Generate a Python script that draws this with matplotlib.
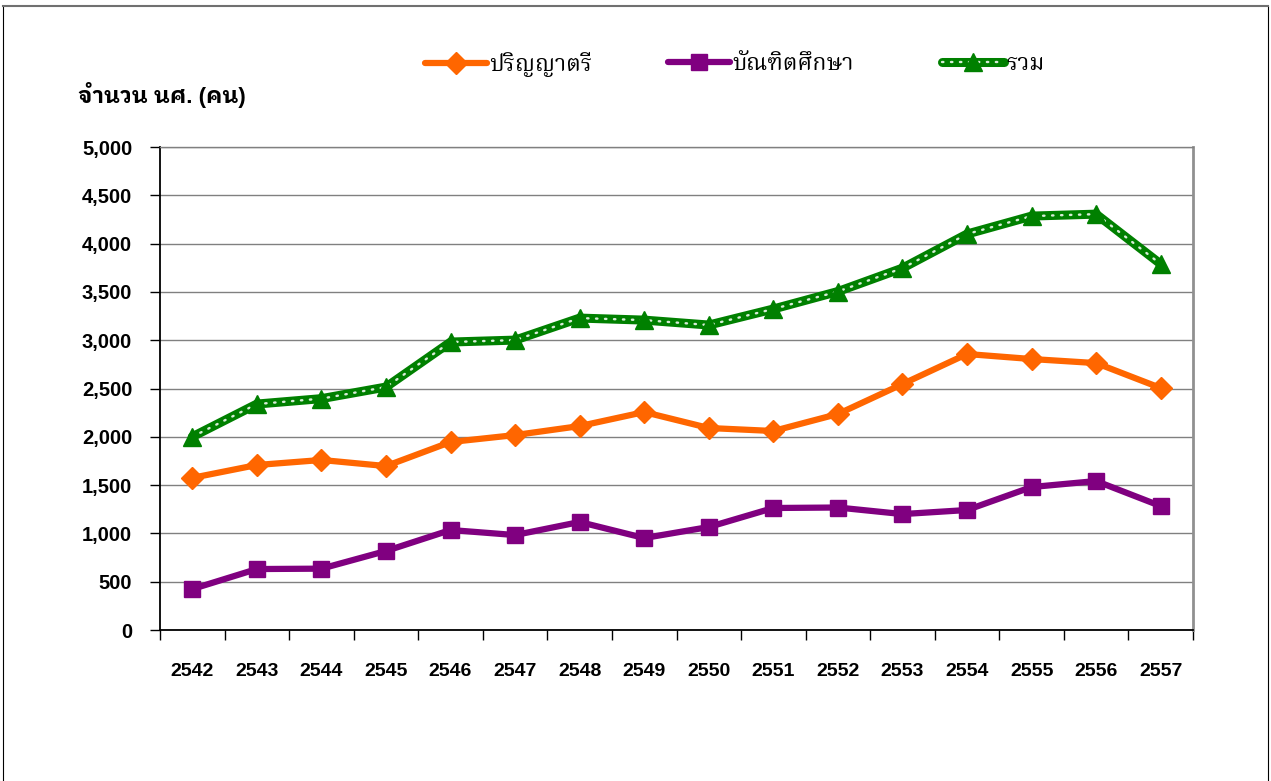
import numpy as np
import matplotlib
matplotlib.use("Agg")
import matplotlib.pyplot as plt
from matplotlib.lines import Line2D
from matplotlib.legend_handler import HandlerTuple

plt.rcParams['font.family'] = ['Liberation Sans', 'IBM Plex Sans Thai Looped']
plt.rcParams['font.weight'] = 'bold'

# ปีการศึกษา
years = ['2542', '2543', '2544', '2545', '2546', '2547', '2548', '2549',
         '2550', '2551', '2552', '2553', '2554', '2555', '2556', '2557']
# ปริญญาตรี
bachelor = [1575, 1708, 1760, 1697, 1946, 2018, 2111, 2256,
            2091, 2060, 2236, 2546, 2857, 2805, 2763, 2505]
# บัณฑิตศึกษา
graduate = [424, 631, 635, 818, 1035, 983, 1118, 952,
            1066, 1263, 1268, 1200, 1242, 1480, 1542, 1283]
# รวม
total = [2000, 2339, 2395, 2515, 2981, 3001, 3229, 3208,
         3157, 3323, 3504, 3746, 4099, 4285, 4305, 3788]
yticks = [0, 500, 1000, 1500, 2000, 2500, 3000, 3500, 4000, 4500, 5000]

ORANGE = '#FF6600'
PURPLE = '#800080'
GREEN = '#008000'

fig = plt.figure(figsize=(12.71, 7.81), dpi=100)
ax = fig.add_axes([160 / 1271, 1 - 630 / 781, (1193 - 160) / 1271, (630 - 147) / 781])

x = np.arange(len(years))

l1, = ax.plot(x, bachelor, color=ORANGE, lw=4.5, marker='D', ms=11,
              mec=ORANGE, solid_joinstyle='round', solid_capstyle='round', zorder=5)
l2, = ax.plot(x, graduate, color=PURPLE, lw=4.5, marker='s', ms=12,
              mec=PURPLE, solid_joinstyle='round', solid_capstyle='round', zorder=5)
g1, = ax.plot(x, total, color=GREEN, lw=6.5, solid_joinstyle='round',
              solid_capstyle='round', zorder=5)
g2, = ax.plot(x, total, color='#d8ecd8', lw=1.7, linestyle=(0, (0.6, 3.2)),
              dash_capstyle='round', zorder=6)
g3, = ax.plot(x, total, color=GREEN, lw=0, marker='^', ms=13, mec=GREEN, zorder=7)

ax.set_xlim(-0.5, len(years) - 0.5)
ax.set_ylim(0, 5000)
ax.set_yticks(yticks)
ax.set_yticklabels([f'{v:,}' for v in yticks])
ax.set_xticks(x)
ax.set_xticklabels(years)
ax.set_xticks(np.arange(len(years) + 1) - 0.5, minor=True)
ax.tick_params(axis='x', which='major', length=0, pad=24, labelsize=14)
ax.tick_params(axis='x', which='minor', length=7, width=1, direction='out', color='black')
ax.tick_params(axis='y', length=7, width=1, direction='out', pad=13, labelsize=14.5)

ax.yaxis.grid(True, color='#808080', lw=1)
ax.set_axisbelow(True)
for s in ['left', 'bottom']:
    ax.spines[s].set_color('black')
    ax.spines[s].set_linewidth(1.3)
ax.spines['top'].set_color('#808080')
ax.spines['top'].set_linewidth(1)
ax.spines['right'].set_color('#909090')
ax.spines['right'].set_linewidth(2)

fig.text(78 / 1271, 1 - 95 / 781, 'จำนวน นศ. (คน)', fontsize=16, fontweight='bold',
         va='center', ha='left')

# legend วางทีละรายการตามตำแหน่งในภาพต้นฉบับ
entries = [(l1, 'ปริญญาตรี', 425), (l2, 'บัณฑิตศึกษา', 668),
           ((g1, g2, g3), 'รวม', 942)]
for h, lab, px in entries:
    leg = fig.legend([h], [lab], handler_map={tuple: HandlerTuple(ndivide=1)},
                     loc='center left', bbox_to_anchor=(px / 1271, 1 - 64 / 781),
                     frameon=False, numpoints=1, handlelength=2.7,
                     handletextpad=0.1, borderaxespad=0, borderpad=0,
                     prop={'family': ['Noto Serif Thai'], 'size': 16.5, 'weight': 'semibold'})

# กรอบรอบภาพ
fig.add_artist(Line2D([3 / 1271, 3 / 1271], [0, 1 - 6 / 781], transform=fig.transFigure,
                      color='black', lw=0.8))
fig.add_artist(Line2D([1268 / 1271, 1268 / 1271], [0, 1 - 6 / 781], transform=fig.transFigure,
                      color='black', lw=0.8))
fig.add_artist(Line2D([3 / 1271, 1268 / 1271], [1 - 6 / 781, 1 - 6 / 781], transform=fig.transFigure,
                      color='#707070', lw=1.5))

fig.savefig('out.png', dpi=100)
